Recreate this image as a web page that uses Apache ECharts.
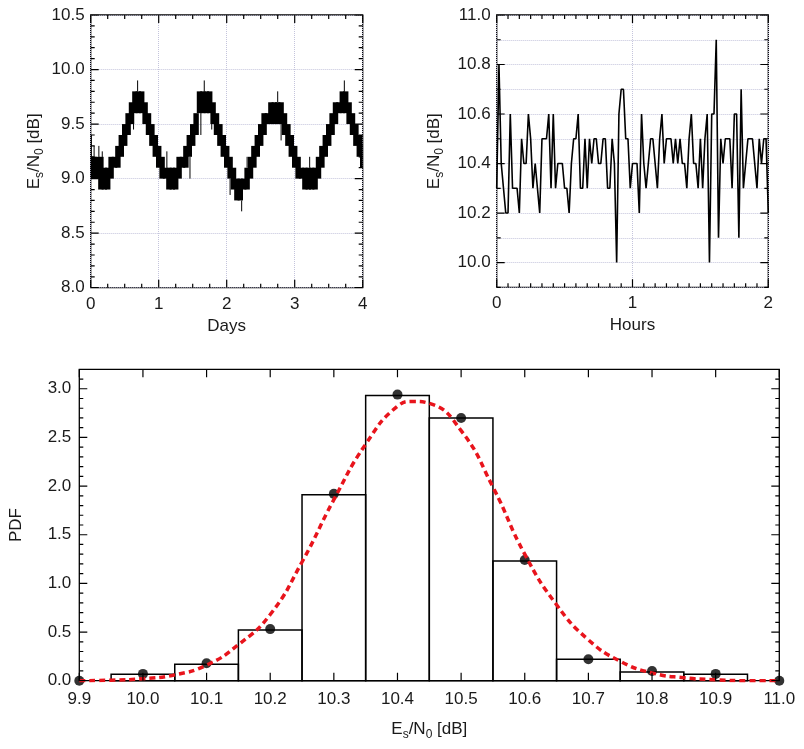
<!DOCTYPE html>
<html>
<head>
<meta charset="utf-8">
<script src="https://cdn.jsdelivr.net/npm/echarts@6/dist/echarts.min.js"></script>
<style>
html, body { margin: 0; padding: 0; background: #fff; }
#chart { width: 804px; height: 749px; }
</style>
</head>
<body>
<div id="chart"></div>
<script>
// --- top left: Es/N0 over 4 days, lower / upper edge of the trace every 0.05 day ---
const dayLow = [
    9.0, 9.0, 9.0, 8.9, 8.9, 8.9, 9.0, 9.1, 9.1, 9.2, 9.3, 9.4, 9.5, 9.6, 9.6, 9.6, 9.5, 9.4, 9.3, 9.2,
    9.1, 9.0, 9.0, 8.9, 8.9, 8.9, 9.0, 9.1, 9.1, 9.2, 9.3, 9.4, 9.6, 9.6, 9.6, 9.6, 9.5, 9.4, 9.3, 9.2,
    9.1, 9.0, 8.9, 8.8, 8.8, 8.9, 8.9, 9.0, 9.1, 9.2, 9.3, 9.4, 9.5, 9.5, 9.5, 9.5, 9.5, 9.4, 9.3, 9.2,
    9.1, 9.0, 9.0, 8.9, 8.9, 8.9, 8.9, 9.0, 9.1, 9.2, 9.3, 9.4, 9.5, 9.6, 9.6, 9.6, 9.5, 9.4, 9.3, 9.2,
    9.1,
];
const dayHigh = [
    9.2, 9.2, 9.2, 9.2, 9.1, 9.1, 9.2, 9.2, 9.3, 9.4, 9.5, 9.6, 9.7, 9.8, 9.8, 9.8, 9.7, 9.6, 9.5, 9.4,
    9.3, 9.2, 9.1, 9.1, 9.1, 9.1, 9.2, 9.2, 9.3, 9.4, 9.5, 9.6, 9.8, 9.8, 9.8, 9.8, 9.7, 9.6, 9.5, 9.4,
    9.3, 9.2, 9.1, 9.0, 9.0, 9.0, 9.1, 9.2, 9.3, 9.4, 9.5, 9.6, 9.6, 9.7, 9.7, 9.7, 9.7, 9.6, 9.5, 9.4,
    9.3, 9.2, 9.1, 9.1, 9.1, 9.1, 9.1, 9.2, 9.3, 9.4, 9.5, 9.6, 9.7, 9.7, 9.8, 9.8, 9.7, 9.6, 9.5, 9.4,
    9.3,
];
const dayStep = 0.05;
// single noise spikes sticking out of the trace: [day, from, to]
const daySpikes = [
    [0.01, 9.2, 9.4], [0.05, 9.2, 9.3], [0.12, 9.2, 9.3], [0.17, 9.1, 9.25],
    [0.63, 9.6, 9.45], [0.69, 9.8, 9.9], [1.12, 9.1, 9.25], [1.46, 9.2, 9.0],
    [1.62, 9.6, 9.4], [1.67, 9.8, 9.9], [1.78, 9.6, 9.45], [2.05, 9.0, 8.85],
    [2.22, 8.8, 8.7], [2.3, 9.1, 9.2], [2.75, 9.7, 9.8], [2.8, 9.5, 9.35],
    [3.22, 9.1, 9.2], [3.73, 9.8, 9.9], [3.99, 9.3, 9.4],
];

// --- top right: one sample per minute over two hours ---
const hourValues = [
    10.3, 10.8, 10.4, 10.3, 10.2, 10.2, 10.6, 10.3, 10.3, 10.3,
    10.2, 10.5, 10.4, 10.4, 10.6, 10.5, 10.3, 10.4, 10.3, 10.2,
    10.5, 10.5, 10.5, 10.6, 10.3, 10.6, 10.3, 10.4, 10.4, 10.4,
    10.3, 10.3, 10.2, 10.4, 10.5, 10.5, 10.6, 10.3, 10.3, 10.5,
    10.3, 10.5, 10.4, 10.5, 10.5, 10.4, 10.4, 10.5, 10.5, 10.3,
    10.3, 10.5, 10.4, 10.0, 10.6, 10.7, 10.7, 10.5, 10.5, 10.3,
    10.4, 10.4, 10.4, 10.2, 10.6, 10.4, 10.3, 10.4, 10.5, 10.5,
    10.4, 10.3, 10.5, 10.6, 10.4, 10.5, 10.5, 10.5, 10.4, 10.5,
    10.4, 10.5, 10.4, 10.4, 10.3, 10.5, 10.6, 10.4, 10.4, 10.3,
    10.5, 10.3, 10.5, 10.6, 10.0, 10.6, 10.6, 10.9, 10.1, 10.5,
    10.4, 10.5, 10.5, 10.5, 10.3, 10.6, 10.6, 10.1, 10.7, 10.3,
    10.4, 10.5, 10.5, 10.5, 10.4, 10.3, 10.5, 10.4, 10.5, 10.5,
    10.2,
];

// --- bottom: histogram, measured pdf points and fitted curve ---
const binCenters = [10.0, 10.1, 10.2, 10.3, 10.4, 10.5, 10.6, 10.7, 10.8, 10.9];
const binHeights = [0.065, 0.17, 0.52, 1.91, 2.93, 2.70, 1.23, 0.22, 0.09, 0.065];
const binWidth = 0.1;
const pdfX = [9.9, 10.0, 10.1, 10.2, 10.3, 10.4, 10.5, 10.6, 10.7, 10.8, 10.9, 11.0];
const pdfY = [0, 0.07, 0.18, 0.53, 1.92, 2.94, 2.70, 1.24, 0.22, 0.10, 0.07, 0];
const fitX = [9.9, 9.95, 10.0, 10.05, 10.1, 10.15, 10.2, 10.25, 10.3, 10.35, 10.4, 10.425, 10.45,
    10.5, 10.55, 10.6, 10.65, 10.7, 10.75, 10.8, 10.85, 10.9, 10.95, 11.0];
const fitY = [0, 0.005, 0.02, 0.06, 0.16, 0.37, 0.68, 1.22, 1.86, 2.43, 2.82, 2.87, 2.85,
    2.57, 1.99, 1.30, 0.78, 0.42, 0.20, 0.08, 0.03, 0.01, 0, 0];

const FONT = "'Liberation Sans', Arial, sans-serif";
const TXT = '#1a1a1a';
const GRIDLINE = { color: '#c4c4dc', type: 'dotted', width: 1 };

const esn0 = '{a|E}{b|s}{a|/N}{b|0}{a| [dB]}';
const esn0Rich = {
    a: { fontSize: 17, fontFamily: FONT, color: TXT, lineHeight: 17 },
    b: { fontSize: 12, fontFamily: FONT, color: TXT, lineHeight: 12, padding: [10, 0, 0, 0] },
};

// panel sizes in px (grid boxes)
const panels = [
    { left: 90.7, top: 15, width: 272, height: 272.7 },
    { left: 496.7, top: 15, width: 271.6, height: 272.3 },
    { left: 79.3, top: 369.3, width: 700, height: 311.4 },
];

// labelled axis of a panel (the box itself is the grid border)
function axis(gridIndex, position, o) {
    return {
        type: 'value',
        gridIndex: gridIndex,
        position: position,
        min: o.min,
        max: o.max,
        interval: o.interval,
        axisLine: { show: false },
        axisTick: { show: false },
        axisLabel: { fontFamily: FONT, fontSize: 17, color: TXT, margin: o.margin || 8, formatter: o.fmt },
        splitLine: { show: !!o.grid, lineStyle: GRIDLINE },
        name: o.name,
        nameLocation: 'middle',
        nameGap: o.nameGap,
        nameTextStyle: o.nameStyle,
    };
}

// tick positions along an axis
function steps(min, max, step) {
    const out = [];
    const n = Math.round((max - min) / step);
    for (let i = 0; i <= n; i++) out.push(+(min + i * step).toFixed(4));
    return out;
}
const MAJOR = 8;
const MINOR = 4;
function tickList(o, majorStep, minorStep) {
    const major = steps(o.min, o.max, majorStep);
    const ticks = major.map((v) => [v, MAJOR]);
    if (minorStep) {
        steps(o.min, o.max, minorStep).forEach((v) => {
            if (!major.some((m) => Math.abs(m - v) < 1e-6)) ticks.push([v, MINOR]);
        });
    }
    return ticks;
}

// inward ticks on all four sides, drawn as short broken line segments
function tickLines(idx, x, y) {
    const dx = (x.max - x.min) / panels[idx].width;
    const dy = (y.max - y.min) / panels[idx].height;
    const data = [];
    x.ticks.forEach(([v, len]) => {
        data.push([v, y.min], [v, y.min + len * dy], [v, '-']);
        data.push([v, y.max], [v, y.max - len * dy], [v, '-']);
    });
    y.ticks.forEach(([v, len]) => {
        data.push([x.min, v], [x.min + len * dx, v], [x.min, '-']);
        data.push([x.max - len * dx, v], [x.max, v], [x.max, '-']);
    });
    return {
        name: 'ticks' + idx,
        type: 'line',
        xAxisIndex: idx,
        yAxisIndex: idx,
        symbol: 'none',
        silent: true,
        connectNulls: false,
        z: 5,
        lineStyle: { color: '#000', width: 1.2 },
        data: data,
    };
}

const fix1 = (v) => v.toFixed(1);
const fix0 = (v) => v.toFixed(0);
const evenTenth = (v) => (Math.round(v * 10) % 2 === 0 ? v.toFixed(1) : '');
const plainName = { fontSize: 17, fontFamily: FONT, color: TXT };

const tlX = { min: 0, max: 4, interval: 1, grid: true, fmt: fix0, name: 'Days', nameGap: 30, nameStyle: plainName };
tlX.ticks = tickList(tlX, 1, 0.25);
const tlY = { min: 8, max: 10.5, interval: 0.5, grid: true, fmt: fix1, margin: 6,
    name: esn0, nameGap: 48, nameStyle: { rich: esn0Rich } };
tlY.ticks = tickList(tlY, 0.5, 0.1);
const trX = { min: 0, max: 2, interval: 1, grid: true, fmt: fix0, name: 'Hours', nameGap: 30, nameStyle: plainName };
trX.ticks = tickList(trX, 1, 1 / 12);
const trY = { min: 9.9, max: 11.0, interval: 0.1, grid: true, fmt: evenTenth, margin: 6,
    name: esn0, nameGap: 54, nameStyle: { rich: esn0Rich } };
trY.ticks = steps(9.9, 11.0, 0.1).map((v) => [v, Math.round(v * 10) % 2 === 0 ? MAJOR : MINOR]);
const bX = { min: 9.9, max: 11.0, interval: 0.1, fmt: fix1, margin: 10, name: esn0, nameGap: 40, nameStyle: { rich: esn0Rich } };
bX.ticks = tickList(bX, 0.1, 0);
const bY = { min: 0, max: 3.2, interval: 0.5, fmt: (v) => (v > 3.1 ? '' : v.toFixed(1)), margin: 8,
    name: 'PDF', nameGap: 54, nameStyle: plainName };
bY.ticks = tickList({ min: 0, max: 3.0 }, 0.5, 0.1).concat([[3.1, MINOR]]);

const chart = echarts.init(document.getElementById('chart'));

const spikeData = [];
daySpikes.forEach((s) => {
    spikeData.push([s[0], s[1]], [s[0], s[2]], [s[0], '-']);
});

const box = { show: true, borderColor: '#000', borderWidth: 1.3, backgroundColor: 'transparent' };

chart.setOption({
    animation: false,
    grid: panels.map((p) => Object.assign({}, p, box)),
    xAxis: [axis(0, 'bottom', tlX), axis(1, 'bottom', trX), axis(2, 'bottom', bX)],
    yAxis: [axis(0, 'left', tlY), axis(1, 'left', trY), axis(2, 'left', bY)],
    series: [
        {
            name: 'band',
            type: 'custom',
            xAxisIndex: 0,
            yAxisIndex: 0,
            silent: true,
            encode: { x: 0, y: [1, 2] },
            data: dayLow.map((v, i) => [+(i * dayStep).toFixed(2), v, dayHigh[i]]),
            renderItem: (params, api) => {
                const t = api.value(0);
                const p0 = api.coord([Math.max(0, t - dayStep * 0.8), api.value(2)]);
                const p1 = api.coord([Math.min(4, t + dayStep * 0.8), api.value(1)]);
                return {
                    type: 'rect',
                    shape: { x: p0[0], y: p0[1], width: p1[0] - p0[0], height: p1[1] - p0[1] },
                    style: { fill: '#000' },
                };
            },
        },
        {
            name: 'spikes',
            type: 'line',
            xAxisIndex: 0,
            yAxisIndex: 0,
            symbol: 'none',
            silent: true,
            connectNulls: false,
            lineStyle: { color: '#000', width: 1 },
            data: spikeData,
        },
        {
            name: 'hours',
            type: 'line',
            xAxisIndex: 1,
            yAxisIndex: 1,
            symbol: 'none',
            silent: true,
            lineStyle: { color: '#000', width: 1.6 },
            data: hourValues.map((v, i) => [i / 60, v]),
        },
        {
            name: 'histogram',
            type: 'custom',
            xAxisIndex: 2,
            yAxisIndex: 2,
            silent: true,
            encode: { x: 0, y: 1 },
            data: binCenters.map((c, i) => [c, binHeights[i]]),
            renderItem: (params, api) => {
                const c = api.value(0);
                const h = api.value(1);
                const p0 = api.coord([c - binWidth / 2, h]);
                const p1 = api.coord([c + binWidth / 2, 0]);
                return {
                    type: 'rect',
                    shape: { x: p0[0], y: p0[1], width: p1[0] - p0[0], height: p1[1] - p0[1] },
                    style: { fill: 'none', stroke: '#000', lineWidth: 1.5 },
                };
            },
        },
        {
            name: 'fit',
            type: 'line',
            xAxisIndex: 2,
            yAxisIndex: 2,
            smooth: 0.5,
            symbol: 'none',
            silent: true,
            lineStyle: { color: '#e8141c', width: 3.5, type: [6, 4] },
            data: fitX.map((x, i) => [x, fitY[i]]),
        },
        {
            name: 'pdf',
            type: 'scatter',
            xAxisIndex: 2,
            yAxisIndex: 2,
            clip: false,
            symbolSize: 10,
            silent: true,
            itemStyle: { color: '#000' },
            data: pdfX.map((x, i) => [x, pdfY[i]]),
        },
        tickLines(0, tlX, tlY),
        tickLines(1, trX, trY),
        tickLines(2, bX, bY),
    ],
});
</script>
</body>
</html>
